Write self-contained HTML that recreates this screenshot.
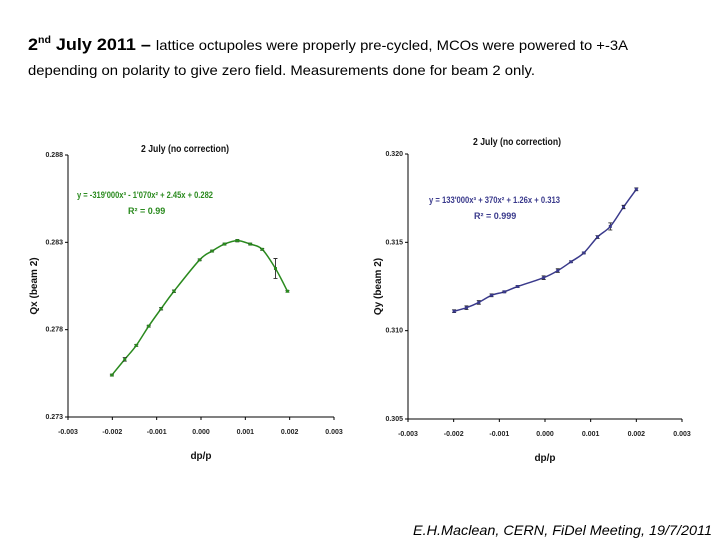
<!DOCTYPE html>
<html><head><meta charset="utf-8"><style>
body{margin:0;background:#fff;}
svg{display:block;font-family:"Liberation Sans",sans-serif;}
.tk{font-size:7px;font-weight:bold;fill:#222;}
</style></head><body>
<svg id="s" width="720" height="540" xmlns="http://www.w3.org/2000/svg">
<g>
<text x="28" y="50" textLength="600" lengthAdjust="spacingAndGlyphs"><tspan font-size="17" font-weight="bold">2</tspan><tspan font-size="10" font-weight="bold" dy="-7">nd</tspan><tspan font-size="17" font-weight="bold" dy="7"> July 2011 – </tspan><tspan font-size="14">lattice octupoles were properly pre-cycled, MCOs were powered to +-3A</tspan></text>
<text x="28" y="75" font-size="14" textLength="507" lengthAdjust="spacingAndGlyphs">depending on polarity to give zero field. Measurements done for beam 2 only.</text>
</g>
<text x="413" y="535" font-size="14" font-style="italic" textLength="299" lengthAdjust="spacingAndGlyphs">E.H.Maclean, CERN, FiDel Meeting, 19/7/2011</text>
<g id="c1"></g>
<g id="c2"></g>
</svg>
<script>
const xTicks = [-0.003,-0.002,-0.001,0.000,0.001,0.002,0.003];
const qxTicks = [0.273,0.278,0.283,0.288];
const qyTicks = [0.305,0.310,0.315,0.320];
const qxDp = [-0.00201,-0.00172,-0.00146,-0.00118,-0.00090,-0.00061,-0.00003,0.00025,0.00053,0.00082,0.00111,0.00138,0.00168,0.00195];
const qxVal = [0.2754,0.2763,0.2771,0.2782,0.2792,0.2802,0.2820,0.2825,0.2829,0.2831,0.2829,0.2826,0.2815,0.2802];
const qxErr = [0.00005,0.0001,0.00005,0.00005,0.00007,0.00007,0.00005,0.00005,0.00005,0.00007,0.00005,0.00005,0.00057,0.00005];
const qyDp = [-0.00199,-0.00172,-0.00145,-0.00117,-0.00089,-0.00060,-0.00003,0.00028,0.00057,0.00085,0.00115,0.00143,0.00172,0.00200];
const qyVal = [0.3111,0.3113,0.3116,0.3120,0.3122,0.3125,0.3130,0.3134,0.3139,0.3144,0.3153,0.3159,0.3170,0.3180];
const qyErr = [0.00008,0.0001,0.0001,0.00008,0.00005,0.00005,0.0001,0.0001,0.00005,0.00005,0.00008,0.0002,0.0001,0.00008];
const NS='http://www.w3.org/2000/svg';
function mk(p,t,a,txt){const e=document.createElementNS(NS,t);for(const k in a)e.setAttribute(k,a[k]);if(txt!==undefined)e.textContent=txt;p.appendChild(e);return e;}
function chart(g,cfg){
  const sx=v=>cfg.x0+(v-xTicks[0])/(xTicks[xTicks.length-1]-xTicks[0])*(cfg.x1-cfg.x0);
  const yT=cfg.yTicks;
  const sy=v=>cfg.y1-(v-yT[0])/(yT[yT.length-1]-yT[0])*(cfg.y1-cfg.y0);
  let e;
  e=mk(g,'line',{x1:cfg.x0,y1:cfg.y0,x2:cfg.x0,y2:cfg.y1,stroke:'#000','stroke-width':1});
  
  e=mk(g,'line',{x1:cfg.x0,y1:cfg.y1,x2:cfg.x1,y2:cfg.y1,stroke:'#000','stroke-width':1});
  
  xTicks.forEach(v=>{const x=sx(v);
    mk(g,'line',{x1:x,y1:cfg.y1,x2:x,y2:cfg.y1+3,stroke:'#000'});
    e=mk(g,'text',{x:x,y:cfg.y1+17,'text-anchor':'middle',class:'tk'},v.toFixed(3));
    });
  yT.forEach(v=>{const y=sy(v);
    mk(g,'line',{x1:cfg.x0-3,y1:y,x2:cfg.x0,y2:y,stroke:'#000'});
    e=mk(g,'text',{x:cfg.x0-5,y:y+2,'text-anchor':'end',class:'tk'},v.toFixed(3));
    });
  const pts=cfg.dp.map((d,i)=>[sx(d),sy(cfg.val[i])]);
  let d='M'+pts[0][0]+','+pts[0][1];
  for(let i=0;i<pts.length-1;i++){const p0=pts[Math.max(0,i-1)],p1=pts[i],p2=pts[i+1],p3=pts[Math.min(pts.length-1,i+2)];
    d+=' C'+(p1[0]+(p2[0]-p0[0])/6)+','+(p1[1]+(p2[1]-p0[1])/6)+' '+(p2[0]-(p3[0]-p1[0])/6)+','+(p2[1]-(p3[1]-p1[1])/6)+' '+p2[0]+','+p2[1];}
  e=mk(g,'path',{d:d,fill:'none',stroke:cfg.col,'stroke-width':1.5});
  
  cfg.dp.forEach((dv,i)=>{const x=sx(dv),y=sy(cfg.val[i]),ya=sy(cfg.val[i]+cfg.err[i]),yb=sy(cfg.val[i]-cfg.err[i]);
    mk(g,'path',{d:`M${x},${ya}V${yb}M${x-2},${ya}h4M${x-2},${yb}h4`,stroke:'#111','stroke-width':0.8,fill:'none'});
    e=mk(g,'rect',{x:x-1.5,y:y-1.5,width:3,height:3,fill:cfg.col});
    });
  e=mk(g,'text',{x:cfg.tx,y:cfg.ty,'text-anchor':'middle','font-size':10,'font-weight':'bold',fill:'#111',textLength:88,lengthAdjust:'spacingAndGlyphs'},'2 July (no correction)');
  
  e=mk(g,'text',{x:cfg.ex,y:cfg.ey,'font-size':9,'font-weight':'bold',fill:cfg.col,textLength:cfg.el,lengthAdjust:'spacingAndGlyphs'},cfg.eq);
  
  e=mk(g,'text',{x:cfg.rx,y:cfg.ry,'font-size':9,'font-weight':'bold',fill:cfg.col},cfg.r2);
  
  const cy=(cfg.y0+cfg.y1)/2;
  e=mk(g,'text',{x:cfg.lx,y:cy,'text-anchor':'middle','font-size':10,'font-weight':'bold',fill:'#111',transform:`rotate(-90 ${cfg.lx} ${cy})`},cfg.ylab);
  
  e=mk(g,'text',{x:(cfg.x0+cfg.x1)/2,y:cfg.y1+42,'text-anchor':'middle','font-size':10,'font-weight':'bold',fill:'#111'},'dp/p');
  
}
chart(document.getElementById('c1'),{x0:68,x1:334,y0:155,y1:417,yTicks:qxTicks,dp:qxDp,val:qxVal,err:qxErr,col:'#2a8a1e',
  tx:185,ty:152,ex:77,ey:198,el:136,eq:'y = -319\'000x³ - 1\'070x² + 2.45x + 0.282',rx:128,ry:214,r2:'R² = 0.99',lx:37,ylab:'Qx (beam 2)'});
chart(document.getElementById('c2'),{x0:408,x1:682,y0:154,y1:419,yTicks:qyTicks,dp:qyDp,val:qyVal,err:qyErr,col:'#3a3a8c',
  tx:517,ty:145,ex:429,ey:203,el:131,eq:'y = 133\'000x³ + 370x² + 1.26x + 0.313',rx:474,ry:219,r2:'R² = 0.999',lx:381,ylab:'Qy (beam 2)'});
</script>
</body></html>
